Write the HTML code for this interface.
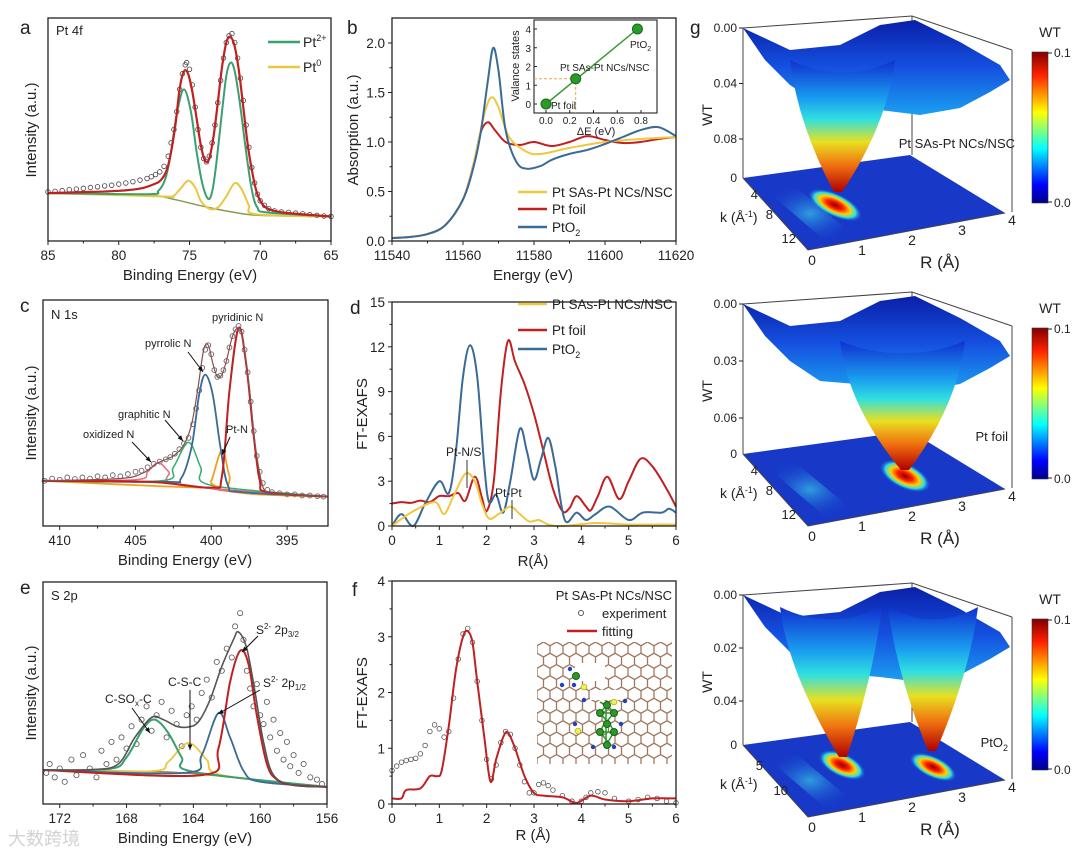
<!DOCTYPE html>
<html><head><meta charset="utf-8">
<style>
html,body{margin:0;padding:0;background:#fff;}
svg{display:block;font-family:"Liberation Sans","Noto Sans CJK SC",sans-serif;}
</style></head>
<body>
<svg id="fig" width="1080" height="851" viewBox="0 0 1080 851" xmlns="http://www.w3.org/2000/svg">
<defs>
<linearGradient id="jetV" x1="0" y1="0" x2="0" y2="1">
<stop offset="0" stop-color="#1030d0"/><stop offset="0.3" stop-color="#1aa0f0"/><stop offset="0.45" stop-color="#30e0e0"/><stop offset="0.62" stop-color="#e8e020"/><stop offset="0.8" stop-color="#f07010"/><stop offset="1" stop-color="#b00000"/>
</linearGradient>
<linearGradient id="cbar" x1="0" y1="1" x2="0" y2="0">
<stop offset="0" stop-color="#00008a"/><stop offset="0.12" stop-color="#0000ff"/><stop offset="0.36" stop-color="#00ffff"/><stop offset="0.6" stop-color="#ffff00"/><stop offset="0.85" stop-color="#ff2000"/><stop offset="1" stop-color="#800000"/>
</linearGradient>
<linearGradient id="surfB" x1="0" y1="0" x2="0" y2="1">
<stop offset="0" stop-color="#0a1fa8"/><stop offset="0.5" stop-color="#1550e0"/><stop offset="1" stop-color="#1aa0f0"/>
</linearGradient>
<radialGradient id="hot">
<stop offset="0" stop-color="#900000"/><stop offset="0.3" stop-color="#ff2000"/><stop offset="0.55" stop-color="#ffd000"/><stop offset="0.75" stop-color="#30e0e0"/><stop offset="1" stop-color="#1030d0" stop-opacity="0"/>
</radialGradient>
<radialGradient id="cyanSpot">
<stop offset="0" stop-color="#40e0f0"/><stop offset="1" stop-color="#1040d0" stop-opacity="0"/>
</radialGradient>
<pattern id="hex" width="13" height="22.5" patternUnits="userSpaceOnUse" x="537" y="642">
<path d="M0 3.75 L6.5 0 L13 3.75 M6.5 0 V-4 M0 3.75 V11.25 L6.5 15 L13 11.25 V3.75 M6.5 15 V22.5" stroke="#a07860" stroke-width="1.3" fill="none"/>
</pattern>
</defs>
<g id="root"></g>
</svg>
<script>
// ---------- DATA ----------
// Panel a (Pt 4f): [binding energy eV, intensity a.u.]
const aEnvelope=[[85,21.5],[82,22],[80,22.5],[78.5,23.5],[77.5,25.5],[77,27.5],[76.6,32],[76.3,40],[76,52],[75.7,68],[75.4,76],[75.1,75],[74.8,67],[74.5,55],[74.2,43],[73.9,36],[73.6,37],[73.3,47],[73,62],[72.7,78],[72.4,89],[72.1,91.5],[71.8,87],[71.5,76],[71.2,60],[70.9,44],[70.6,32],[70.3,23],[70,18],[69.6,15],[69,13.5],[68,12.5],[65,11]];
const aExp=[[85,22],[84.5,22.3],[84,22.6],[83.5,23],[83,23.3],[82.5,23.6],[82,24],[81.5,24.3],[81,24.7],[80.5,25],[80,25.5],[79.5,26],[79,26.6],[78.5,27.3],[78,28],[77.7,28.8],[77.4,29.8],[77.1,31],[76.8,33.5],[76.5,38],[76.3,44],[76.1,50],[75.9,58],[75.7,68],[75.5,75],[75.3,79],[75.2,80],[75,77],[74.8,70],[74.6,60],[74.4,50],[74.2,42],[74,37],[73.8,35.5],[73.6,38],[73.4,44],[73.2,52],[73,62],[72.8,72],[72.6,82],[72.4,89],[72.2,92],[72,93],[71.8,89],[71.6,82],[71.4,73],[71.2,63],[71,52],[70.8,42],[70.6,33],[70.4,26],[70.2,21],[70,18],[69.7,16],[69.4,14.5],[69,13.5],[68.5,13],[68,12.8],[67.5,12.5],[67,12.2],[66.5,11.8],[66,11.5],[65.5,11.2],[65,11]];
const aPt2=[[85,21.5],[78,21],[77.2,22.5],[76.7,28],[76.3,40],[75.9,57],[75.4,68],[74.9,58],[74.5,40],[74.1,26],[73.7,19],[73.4,22],[73.1,35],[72.7,58],[72.4,74],[72.1,80],[71.8,76],[71.4,60],[71,40],[70.6,23],[70.2,15],[69.5,12.8],[65,11]];
const aPt0=[[85,21.5],[77,20],[76.2,20],[75.7,23],[75.1,27],[74.6,24],[74.2,18],[73.6,14.5],[73,15],[72.4,20],[71.8,26],[71.3,23],[70.8,16],[70.3,12],[65,11]];
const aBase=[[85,21.5],[78,20.5],[76,18.5],[74,15.5],[72,13],[70,11.5],[65,11]];
const aXTicks=[85,80,75,70,65];
// Panel b (XANES): [energy eV, absorption]
const bEnergyTicks=[11540,11560,11580,11600,11620];
const bAbsTicks=[0,0.5,1.0,1.5,2.0];
const bPtO2=[[11540,0.03],[11545,0.04],[11550,0.07],[11555,0.16],[11560,0.42],[11563,0.75],[11565,1.1],[11567,1.62],[11568.5,1.95],[11570,1.72],[11572,1.12],[11575,0.8],[11578,0.73],[11582,0.76],[11585,0.82],[11590,0.88],[11595,0.92],[11600,0.98],[11605,1.05],[11610,1.12],[11615,1.15],[11620,1.06]];
const bSample=[[11540,0.03],[11545,0.04],[11550,0.07],[11555,0.16],[11560,0.42],[11563,0.78],[11566,1.28],[11568,1.45],[11570,1.35],[11573,1.05],[11578,0.9],[11582,0.88],[11590,0.94],[11600,1.0],[11610,1.03],[11620,1.05]];
const bFoil=[[11540,0.03],[11545,0.04],[11550,0.07],[11555,0.16],[11560,0.42],[11563,0.78],[11565,1.1],[11567,1.2],[11569,1.12],[11572,1.0],[11576,0.97],[11580,1.0],[11585,0.96],[11590,1.0],[11595,1.06],[11600,1.02],[11605,0.99],[11610,1.0],[11615,1.03],[11620,1.05]];
const insetDE=[0,0.25,0.77];
const insetVal=[0,1.35,4];
const insetNames=["Pt foil","Pt SAs-Pt NCs/NSC","PtO"];
const insetXTicks=[0,0.2,0.4,0.6,0.8];
const insetYTicks=[0,1,2,3,4];
// Panel c (N 1s)
const cExp=[[411,20],[410.5,21],[410,20.5],[409.5,21.5],[409,20.8],[408.5,21.5],[408,21],[407.5,22],[407,21.5],[406.5,22.5],[406,22],[405.5,23],[405,24],[404.6,24.5],[404.2,26],[403.8,27.5],[403.4,28.5],[403,29.5],[402.7,30.5],[402.4,32],[402.1,34],[401.8,36.5],[401.5,39],[401.2,45],[401,52],[400.8,60],[400.6,70],[400.4,78],[400.2,80],[400,76],[399.8,69],[399.6,66],[399.4,66.5],[399.2,69],[399,73],[398.8,79],[398.6,84],[398.4,87],[398.2,88.5],[398,86],[397.8,78],[397.6,68],[397.4,55],[397.2,42],[397,31],[396.8,24],[396.6,19],[396.3,16],[396,15],[395.5,14.5],[395,14],[394.5,14],[394,13.5],[393.5,13.5],[393,13.2],[392.6,13]];
const cEnvelope=[[411.1,20],[406,21],[404.5,23.5],[403.5,28],[402.5,31],[401.8,36],[401.3,45],[400.9,60],[400.5,78],[400.2,80],[399.9,72],[399.6,66],[399.3,67],[399,73],[398.6,84],[398.2,87.6],[397.9,82],[397.5,62],[397.1,36],[396.7,20],[396.3,15],[395,14],[392.3,13]];
const cPyridinic=[[411.1,20],[404,19.5],[400,17],[399.3,22],[398.8,60],[398.2,87.6],[397.7,72],[397.2,40],[396.8,20],[396.3,15],[392.3,13]];
const cPyrrolic=[[411.1,20],[403,19.5],[402,21],[401.3,35],[400.8,58],[400.4,67],[399.9,58],[399.4,35],[398.9,18],[398,15],[392.3,13]];
const cGraphitic=[[411.1,20],[403.3,20],[402.5,26],[401.5,37],[400.7,26],[400,18],[392.3,13]];
const cOxidized=[[411.1,20],[405,20.5],[404.2,24],[403.5,28],[402.8,24],[402,18],[392.3,13]];
const cPtN=[[411.1,20],[400.5,17],[400,20],[399.3,33.6],[398.8,22],[398.3,15],[392.3,13]];
const cBase=[[411.1,20],[404,19.5],[401,17.5],[399,15.5],[397,14],[392.3,13]];
const cXTicks=[410,405,400,395];
// Panel d (FT-EXAFS)
const dPtO2=[[0,0],[0.2,0.8],[0.45,0],[0.7,1.5],[1.0,3],[1.2,2.2],[1.35,5],[1.5,10],[1.65,12.1],[1.8,10],[1.95,4],[2.05,1.6],[2.2,2.1],[2.35,0.9],[2.5,3],[2.7,6.5],[2.85,5],[3.0,3.1],[3.15,4.5],[3.3,5.9],[3.45,4],[3.65,0.4],[3.9,0.9],[4.1,0.4],[4.3,0.8],[4.6,1.3],[5.0,0.4],[5.3,0.9],[5.7,0.9],[5.85,1.15],[6,0.9]];
const dFoil=[[0,1.5],[0.2,1.6],[0.4,1.55],[0.6,1.7],[0.8,1.6],[1.0,2.0],[1.2,2.0],[1.4,2.2],[1.55,1.7],[1.75,3.3],[1.9,1.9],[2.0,1],[2.15,3],[2.3,9],[2.45,12.4],[2.6,11],[2.8,9.5],[3.0,7.5],[3.2,5],[3.4,2.5],[3.6,1],[3.75,1.2],[3.9,2],[4.1,1.3],[4.2,1.05],[4.35,2],[4.55,3.3],[4.8,1.8],[5.0,3],[5.25,4.5],[5.5,4],[5.8,2.5],[6,1.3]];
const dSample=[[0,0],[0.4,0.9],[0.9,1.6],[1.1,0.8],[1.3,2],[1.55,3.5],[1.75,3.0],[1.9,1.5],[2.05,0.5],[2.25,0.8],[2.5,1.3],[2.7,0.8],[2.9,0.3],[3.1,0.4],[3.3,0.1],[3.6,0],[4.3,0.2],[5,0.1],[6,0.1]];
const dXTicks=[0,1,2,3,4,5,6];
const dYTicks=[0,3,6,9,12,15];
// Panel e (S 2p)
const eEnvelope=[[173,15.3],[170,15.5],[168.5,18],[167.5,30],[166.5,39],[165.8,38],[165,35],[164.3,34.7],[163.7,37],[163,47],[162.3,62],[161.6,74],[161.3,77.5],[160.8,70],[160.3,50],[159.8,28],[159.2,13],[158,8.5],[156,7.7]];
const eCSOx=[[173,15.3],[169,15.8],[168,21],[167,34],[166.3,38],[165.5,32],[164.7,21],[164,14.5],[156,7.7]];
const eCSC=[[173,15.3],[166.5,14.8],[165.5,19],[164.3,27.5],[163.2,20],[162.3,13],[156,7.7]];
const eP12=[[173,15.3],[164.5,14],[163.5,22],[162.5,41],[161.8,30],[161,15],[160,10],[156,7.7]];
const eP32=[[173,15.3],[163.5,13],[162.5,25],[161.8,55],[161.2,69],[160.7,63],[160.2,40],[159.6,18],[159,11],[158,8.5],[156,7.7]];
const eBase=[[173,15.3],[166,14.5],[163,13],[160,10.5],[158,8.8],[156,7.7]];
const eExp=[[172.8,14],[172.6,18],[172.3,12],[172,16],[171.7,10],[171.3,20],[171,13],[170.6,22],[170.2,16],[169.8,12],[169.5,24],[169.2,18],[168.9,28],[168.6,20],[168.3,30],[168,25],[167.7,35],[167.4,27],[167.1,38],[166.8,44],[166.5,33],[166.2,40],[165.9,46],[165.6,30],[165.3,42],[165,36],[164.7,26],[164.4,40],[164.1,44],[163.8,38],[163.5,50],[163.2,56],[162.9,48],[162.6,64],[162.3,60],[162,70],[161.7,66],[161.5,80],[161.2,86],[161,74],[160.8,60],[160.6,52],[160.4,44],[160.2,54],[160,40],[159.8,36],[159.6,46],[159.4,30],[159.2,38],[159,24],[158.8,32],[158.6,20],[158.4,28],[158.2,17],[158,22],[157.7,14],[157.4,18],[157,12],[156.6,11],[156.3,9]];
const eXTicks=[172,168,164,160,156];
// Panel f (fit)
const fExp=[[0,0.6],[0.1,0.68],[0.2,0.75],[0.3,0.78],[0.4,0.8],[0.5,0.82],[0.6,0.9],[0.7,1.05],[0.8,1.3],[0.9,1.42],[1.0,1.35],[1.1,1.2],[1.2,1.3],[1.3,1.9],[1.4,2.6],[1.5,3.05],[1.6,3.15],[1.7,2.9],[1.8,2.2],[1.9,1.5],[2.0,0.8],[2.1,0.45],[2.2,0.7],[2.3,1.1],[2.4,1.3],[2.5,1.25],[2.6,1.0],[2.7,0.7],[2.8,0.4],[2.9,0.2],[3.0,0.2],[3.1,0.35],[3.2,0.38],[3.3,0.33],[3.4,0.25],[3.6,0.15],[3.8,0.05],[4.0,0.05],[4.1,0.12],[4.2,0.2],[4.35,0.22],[4.5,0.2],[4.7,0.1],[5.0,0.05],[5.2,0.08],[5.4,0.12],[5.6,0.1],[5.8,0.05],[6,0.02]];
const fFit=[[0,0.1],[0.2,0.1],[0.3,0.25],[0.6,0.28],[0.8,0.5],[0.95,0.5],[1.05,0.6],[1.2,1.4],[1.35,2.4],[1.5,3.0],[1.6,3.1],[1.7,2.9],[1.8,2.2],[1.95,1.2],[2.08,0.4],[2.2,0.8],[2.35,1.2],[2.45,1.28],[2.6,1.0],[2.8,0.5],[3.0,0.2],[3.2,0.15],[3.6,0.12],[3.9,0.02],[4.2,0.15],[4.5,0.08],[5,0.05],[5.5,0.1],[6,0.1]];
const fXTicks=[0,1,2,3,4,5,6];
const fYTicks=[0,1,2,3,4];
// Panel g (wavelet transforms)
const gNames=["Pt SAs-Pt NCs/NSC","Pt foil","PtO"];
const gZTicks=[["0.00","0.04","0.08"],["0.00","0.03","0.06"],["0.00","0.02","0.04"]];
const gKTicks=[["4","8","12"],["4","8","12"],["5","10"]];
const gRTicks=["0","1","2","3","4"];

// ---------- HELPERS ----------
const NS="http://www.w3.org/2000/svg";
const root=document.getElementById('root');
function mk(tag,attrs,parent,txt){const e=document.createElementNS(NS,tag);for(const k in attrs)e.setAttribute(k,attrs[k]);if(txt!==undefined)e.textContent=txt;(parent||root).appendChild(e);return e;}
function scale(d0,d1,r0,r1){return v=>r0+(v-d0)/(d1-d0)*(r1-r0);}
function smooth(pts){let d='M'+pts[0][0].toFixed(1)+' '+pts[0][1].toFixed(1);for(let i=0;i<pts.length-1;i++){const p0=pts[i-1]||pts[i],p1=pts[i],p2=pts[i+1],p3=pts[i+2]||p2;const c1=[p1[0]+(p2[0]-p0[0])/6,p1[1]+(p2[1]-p0[1])/6],c2=[p2[0]-(p3[0]-p1[0])/6,p2[1]-(p3[1]-p1[1])/6];d+=' C'+c1[0].toFixed(1)+' '+c1[1].toFixed(1)+' '+c2[0].toFixed(1)+' '+c2[1].toFixed(1)+' '+p2[0].toFixed(1)+' '+p2[1].toFixed(1);}return d;}
function line(g,data,sx,sy,color,w,name){const p=mk('path',{d:smooth(data.map(q=>[sx(q[0]),sy(q[1])])),fill:'none',stroke:color,'stroke-width':w,'stroke-linejoin':'round'},g);return p;}
function frame(g,b){const r=mk('rect',{x:b.l,y:b.t,width:b.r-b.l,height:b.b-b.t,fill:'none',stroke:'#222','stroke-width':1.3},g);}
function xticks(g,b,sx,ticks,fmt,minor){ticks.forEach((t,i)=>{const x=sx(t);mk('line',{x1:x,x2:x,y1:b.b,y2:b.b+4,stroke:'#222'},g);const tx=mk('text',{x:x,y:b.b+19,'text-anchor':'middle','font-size':13.5,fill:'#222'},g,fmt?fmt(t):t);if(minor&&i<ticks.length-1){const m=sx((t+ticks[i+1])/2);mk('line',{x1:m,x2:m,y1:b.b,y2:b.b+2.5,stroke:'#222'},g);}});}
function yticks(g,b,sy,ticks,fmt,minor){ticks.forEach((t,i)=>{const y=sy(t);mk('line',{x1:b.l-4,x2:b.l,y1:y,y2:y,stroke:'#222'},g);const tx=mk('text',{x:b.l-7,y:y+5,'text-anchor':'end','font-size':13.5,fill:'#222'},g,fmt?fmt(t):t);if(minor&&i<ticks.length-1){const m=sy((t+ticks[i+1])/2);mk('line',{x1:b.l-2.5,x2:b.l,y1:m,y2:m,stroke:'#222'},g);}});}
function txt(g,x,y,s,size,name,anchor,rot){const a={x:x,y:y,'font-size':size,fill:'#222','text-anchor':anchor||'start'};if(rot)a.transform='rotate(-90 '+x+' '+y+')';const t=mk('text',a,g);t.innerHTML=s;return t;}
function grp(name){const g=mk('g',{},root);return g;}
function arrow(g,x1,y1,x2,y2){mk('line',{x1:x1,y1:y1,x2:x2,y2:y2,stroke:'#111','stroke-width':1},g);const a=Math.atan2(y2-y1,x2-x1),L=6;mk('path',{d:`M${x2} ${y2} L${x2-L*Math.cos(a-0.4)} ${y2-L*Math.sin(a-0.4)} L${x2-L*Math.cos(a+0.4)} ${y2-L*Math.sin(a+0.4)}Z`,fill:'#111'},g);}

// ---------- PANEL A ----------
(function(){const g=grp('panel-a');const b={l:48,r:331,t:18,b:241};const sx=scale(85,65,b.l,b.r),sy=scale(0,100,b.b,b.t);
aExp.forEach(p=>{const c=mk('circle',{cx:sx(p[0]),cy:sy(p[1]),r:2.3,fill:'none',stroke:'#444','stroke-width':0.8},g);});
line(g,aBase,sx,sy,'#8a9a50',1.5,'background-line');line(g,aPt0,sx,sy,'#e8c840',2,'pt0-component');line(g,aPt2,sx,sy,'#3aa070',2,'pt2-component');line(g,aEnvelope,sx,sy,'#c02020',2.2,'envelope-fit');
frame(g,b);xticks(g,b,sx,aXTicks,null,true);
txt(g,190,280,'Binding Energy (eV)',15,'x-axis-title','middle');txt(g,36,130,'Intensity (a.u.)',15,'y-axis-title','middle',true);
txt(g,20,34,'a',19,'panel-label');txt(g,56,35,'Pt 4f',13,'spectrum-label');
mk('line',{x1:268,x2:300,y1:42,y2:42,stroke:'#3aa070','stroke-width':2.5},g);txt(g,303,47,'Pt<tspan font-size="9" dy="-6">2+</tspan>',14,'legend-pt2');
mk('line',{x1:268,x2:300,y1:67,y2:67,stroke:'#e8c840','stroke-width':2.5},g);txt(g,303,72,'Pt<tspan font-size="9" dy="-6">0</tspan>',14,'legend-pt0');})();

// ---------- PANEL B ----------
(function(){const g=grp('panel-b');const b={l:392,r:676,t:18,b:241};const sx=scale(11540,11620,b.l,b.r),sy=scale(0,2.2525,b.b,b.t);
line(g,bFoil,sx,sy,'#c02020',2,'pt-foil-line');line(g,bSample,sx,sy,'#f0c840',2,'sample-line');line(g,bPtO2,sx,sy,'#3a6a98',2,'pto2-line');
frame(g,b);xticks(g,b,sx,bEnergyTicks,null,true);yticks(g,b,sy,bAbsTicks,t=>t.toFixed(1),true);
txt(g,533,280,'Energy (eV)',15,'x-axis-title','middle');txt(g,358,130,'Absorption (a.u.)',15,'y-axis-title','middle',true);txt(g,347,34,'b',19,'panel-label');
[['#f0c840','Pt SAs-Pt NCs/NSC',192],['#c02020','Pt foil',209],['#3a6a98','PtO<tspan font-size="9" dy="4">2</tspan>',227]].forEach(l=>{mk('line',{x1:518,x2:547,y1:l[2],y2:l[2],stroke:l[0],'stroke-width':2.5},g);txt(g,552,l[2]+5,l[1],13.5,'legend-entry');});
const ib={l:534,r:657,t:20,b:113};const ix=scale(0,0.8,546,641),iy=scale(0,4,104,29);
const ir=mk('rect',{x:ib.l,y:ib.t,width:ib.r-ib.l,height:ib.b-ib.t,fill:'#fff',stroke:'#222','stroke-width':1.1},g);
mk('path',{d:`M${ib.l} ${iy(insetVal[1])} H${ix(insetDE[1])} V${ib.b}`,stroke:'#f0a050','stroke-dasharray':'3,2',fill:'none'},g);
mk('line',{x1:ix(insetDE[0]),y1:iy(insetVal[0]),x2:ix(insetDE[2]),y2:iy(insetVal[2]),stroke:'#3a9a30','stroke-width':1.5},g);
insetDE.forEach((v,i)=>{const c=mk('circle',{cx:ix(v),cy:iy(insetVal[i]),r:5,fill:'#2a9a2a',stroke:'#1a6a1a'},g);});
insetXTicks.forEach(t=>{mk('line',{x1:ix(t),x2:ix(t),y1:ib.b,y2:ib.b-3,stroke:'#222'},g);txt(g,ix(t),ib.b+11,t.toFixed(1),10,'inset-x-tick','middle');});
insetYTicks.forEach(t=>{mk('line',{x1:ib.l,x2:ib.l+3,y1:iy(t),y2:iy(t),stroke:'#222'},g);txt(g,ib.l-3,iy(t)+4,t,10,'inset-y-tick','end');});
txt(g,596,135,'ΔE (eV)',11,'inset-x-title','middle');txt(g,519,66,'Valance states',11,'inset-y-title','middle',true);
txt(g,ix(insetDE[0])+5,iy(insetVal[0])+5,insetNames[0],10,'inset-label');txt(g,560,71,insetNames[1],10,'inset-label');txt(g,630,48,insetNames[2]+'<tspan font-size="7" dy="3">2</tspan>',10,'inset-label');})();

// ---------- PANEL C ----------
(function(){const g=grp('panel-c');const b={l:43,r:328,t:300,b:526};const sx=scale(411.1,392.3,b.l,b.r),sy=scale(0,100,b.b,b.t);
cExp.forEach(p=>{const c=mk('circle',{cx:sx(p[0]),cy:sy(p[1]),r:2.4,fill:'none',stroke:'#666','stroke-width':0.9},g);});
line(g,cBase,sx,sy,'#e07060',1.5,'background-line');line(g,cOxidized,sx,sy,'#e07080',1.5,'oxidized-n');line(g,cGraphitic,sx,sy,'#30b070',1.5,'graphitic-n');line(g,cPtN,sx,sy,'#f0a020',1.8,'pt-n');line(g,cPyrrolic,sx,sy,'#3a6a98',1.8,'pyrrolic-n');line(g,cPyridinic,sx,sy,'#c02020',2,'pyridinic-n');line(g,cEnvelope,sx,sy,'#8a5050',1.2,'envelope-fit');
frame(g,b);xticks(g,b,sx,cXTicks,null,true);
txt(g,185,565,'Binding Energy (eV)',15,'x-axis-title','middle');txt(g,36,413,'Intensity (a.u.)',15,'y-axis-title','middle',true);
txt(g,20,312,'c',19,'panel-label');txt(g,51,319,'N 1s',13,'spectrum-label');
txt(g,212,321,'pyridinic N',11,'pyridinic-label');txt(g,145,347,'pyrrolic N',11,'pyrrolic-label');arrow(g,188,352,203,372);
txt(g,118,418,'graphitic N',11,'graphitic-label');arrow(g,165,420,183,441);txt(g,83,438,'oxidized N',11,'oxidized-label');arrow(g,132,442,151,462);
txt(g,226,433,'Pt-N',11,'pt-n-label');arrow(g,230,437,222,455);})();

// ---------- PANEL D ----------
(function(){const g=grp('panel-d');const b={l:392,r:676,t:302,b:526};const sx=scale(0,6,b.l,b.r),sy=scale(0,15,b.b,b.t);
line(g,dFoil,sx,sy,'#c02020',2,'pt-foil-line');line(g,dPtO2,sx,sy,'#3a6a98',2,'pto2-line');line(g,dSample,sx,sy,'#f0c840',2,'sample-line');
frame(g,b);xticks(g,b,sx,dXTicks,null,true);yticks(g,b,sy,dYTicks,null,true);
txt(g,533,566,'R(Å)',15,'x-axis-title','middle');txt(g,367,414,'FT-EXAFS',15,'y-axis-title','middle',true);txt(g,350,314,'d',19,'panel-label');
[['#f0c840','Pt SAs-Pt NCs/NSC',304],['#c02020','Pt foil',330],['#3a6a98','PtO<tspan font-size="9" dy="4">2</tspan>',349]].forEach(l=>{mk('line',{x1:518,x2:547,y1:l[2],y2:l[2],stroke:l[0],'stroke-width':2.5},g);txt(g,552,l[2]+5,l[1],13.5,'legend-entry');});
txt(g,446,456,'Pt-N/S',12,'pt-n-s-label');mk('line',{x1:467,x2:467,y1:460,y2:488,stroke:'#333'},g);
txt(g,495,497,'Pt-Pt',12,'pt-pt-label');mk('line',{x1:512,x2:512,y1:500,y2:519,stroke:'#333'},g);})();

// ---------- PANEL E ----------
(function(){const g=grp('panel-e');const b={l:43,r:327,t:582,b:804};const sx=scale(173,156,b.l,b.r),sy=scale(0,100,b.b,b.t);
eExp.forEach(p=>{const c=mk('circle',{cx:sx(p[0]),cy:sy(p[1]),r:2.6,fill:'none',stroke:'#555','stroke-width':0.8},g);});
line(g,eBase,sx,sy,'#a08040',1.5,'background-line');line(g,eCSC,sx,sy,'#e8c840',1.8,'c-s-c');line(g,eCSOx,sx,sy,'#3aa070',2,'c-sox-c');line(g,eP12,sx,sy,'#3a6a98',1.8,'s-2p12');line(g,eP32,sx,sy,'#c02020',2,'s-2p32');line(g,eEnvelope,sx,sy,'#555',1.6,'envelope-fit');
frame(g,b);xticks(g,b,sx,eXTicks,null,true);
txt(g,185,843,'Binding Energy (eV)',15,'x-axis-title','middle');txt(g,36,693,'Intensity (a.u.)',15,'y-axis-title','middle',true);
txt(g,20,594,'e',19,'panel-label');txt(g,51,600,'S 2p',13,'spectrum-label');
txt(g,105,703,'C-SO<tspan font-size="8" dy="3">x</tspan><tspan dy="-3">-C</tspan>',12,'c-sox-label');arrow(g,132,708,150,733);
txt(g,168,686,'C-S-C',12,'c-s-c-label');arrow(g,190,690,190,750);
txt(g,256,634,'S<tspan font-size="8" dy="-5">2-</tspan><tspan dy="5"> 2p</tspan><tspan font-size="8" dy="3">3/2</tspan>',12,'s-2p32-label');arrow(g,258,636,242,652);
txt(g,263,687,'S<tspan font-size="8" dy="-5">2-</tspan><tspan dy="5"> 2p</tspan><tspan font-size="8" dy="3">1/2</tspan>',12,'s-2p12-label');arrow(g,260,690,218,714);})();

// ---------- PANEL F ----------
(function(){const g=grp('panel-f');const b={l:392,r:676,t:581,b:804};const sx=scale(0,6,b.l,b.r),sy=scale(0,4,b.b,b.t);
const hr=mk('rect',{x:537,y:642,width:135,height:122,fill:'url(#hex)'},g);
mk('rect',{x:575,y:663,width:30,height:18,fill:'#fff'},g);mk('rect',{x:590,y:690,width:35,height:10,fill:'#fff'},g);
[[570,669],[574,685],[562,685],[584,700],[625,701],[575,724],[621,724],[593,747],[614,747]].forEach(p=>mk('circle',{cx:p[0],cy:p[1],r:2.2,fill:'#2040c0'},g));
mk('path',{d:'M600 702 L606 706 L600 713 L606 720 L600 732 L608 742 L614 732 L608 720 L614 713 L608 706 Z M600 713 L614 713 M600 732 L614 732 M606 706 V742',stroke:'#2a9a2a','stroke-width':1.5,fill:'none'},g);
[[576,676],[607,705],[600,713],[614,713],[607,724],[600,732],[614,732],[607,745]].forEach(p=>mk('circle',{cx:p[0],cy:p[1],r:3.5,fill:'#2a9a2a',stroke:'#186018'},g));
[[584,687],[614,702],[578,731]].forEach(p=>mk('circle',{cx:p[0],cy:p[1],r:2.8,fill:'#f0f060',stroke:'#c0c020'},g));
fExp.forEach(p=>{const c=mk('circle',{cx:sx(p[0]),cy:sy(p[1]),r:2.3,fill:'none',stroke:'#555','stroke-width':0.8},g);});
line(g,fFit,sx,sy,'#c02020',2,'fitting-line');
frame(g,b);xticks(g,b,sx,fXTicks,null,true);yticks(g,b,sy,fYTicks,null,true);
txt(g,533,840,'R (Å)',15,'x-axis-title','middle');txt(g,367,693,'FT-EXAFS',15,'y-axis-title','middle',true);txt(g,352,596,'f',19,'panel-label');
txt(g,672,600,'Pt SAs-Pt NCs/NSC',13,'legend-title','end');mk('circle',{cx:581,cy:613,r:2.5,fill:'none',stroke:'#555'},g);txt(g,602,618,'experiment',13,'legend-experiment');
mk('line',{x1:567,x2:597,y1:631,y2:631,stroke:'#c02020','stroke-width':2.5},g);txt(g,602,636,'fitting',13,'legend-fitting');})();

// ---------- PANEL G ----------
const gOff=[0,276,567];
const gFunnels=[[[790,895,95,838,192]],[[840,965,100,905,194]],[[780,882,75,843,190],[888,978,75,932,184]]];
const gHot=[[[835,205,30,12]],[[905,200,28,13]],[[842,198,26,12],[933,200,26,11]]];
gOff.forEach((o,idx)=>{const g=grp('wt-panel-'+(idx+1));const t=mk('g',{transform:'translate(0,'+o+')'},g);
mk('path',{d:'M743 28 L912 16 L1012 50 M912 16 V155 M1012 50 V212 M743 28 V178',stroke:'#444','stroke-width':1,fill:'none'},t);
const fl=mk('path',{d:'M743 178 L910 155 L1005 213 L808 250 Z',fill:'#1838c8'},t);
mk('path',{d:'M760 185 L790 182 L860 240 L830 245 Z',fill:'url(#cyanSpot)',opacity:0.6},t);
gHot[idx].forEach(h=>mk('ellipse',{cx:h[0],cy:h[1],rx:h[2],ry:h[3],fill:'url(#hot)',transform:`rotate(25 ${h[0]} ${h[1]})`},t));
const sf=mk('path',{d:'M743 28 L790 50 L840 45 L880 25 L915 20 L960 42 L1000 65 L1010 80 L990 92 L960 108 L920 115 L880 110 L820 105 L790 85 L765 60 Z',fill:'url(#surfB)'},t);
gFunnels[idx].forEach(f=>{const fp=mk('path',{d:`M${f[0]} ${f[2]-35} Q${f[0]+8} ${f[2]+30} ${f[3]-4} ${f[4]} L${f[3]+4} ${f[4]} Q${f[1]-8} ${f[2]+30} ${f[1]} ${f[2]-35} Q${(f[0]+f[1])/2} ${f[2]-10} ${f[0]} ${f[2]-35}Z`,fill:'url(#jetV)'},t);});
mk('path',{d:'M743 178 L808 250 L1005 213',stroke:'#444','stroke-width':1,fill:'none'},t);
gZTicks[idx].forEach((s,i)=>{const y=28+i*(idx===2?53:(idx===1?57:55.5));mk('line',{x1:739,x2:743,y1:y,y2:y,stroke:'#222'},t);txt(t,737,y+4,s,12,'z-tick-label','end');});
txt(t,737,182,'0',12,'z-tick-label','end');
txt(t,712,115,'WT',14,'z-axis-title','middle',true);
const kx=gKTicks[idx].length===2?[763,788]:[758,773,796],ky=gKTicks[idx].length===2?[203,228]:[199,219,243];
gKTicks[idx].forEach((s,i)=>txt(t,kx[i],ky[i],s,13,'k-tick-label','end'));
txt(t,720,222,'k (Å<tspan font-size="9" dy="-5">-1</tspan><tspan dy="5">)</tspan>',14,'k-axis-title');
gRTicks.forEach((s,i)=>txt(t,812+i*50,265-i*10,s,14,'r-tick-label','middle'));
txt(t,940,268,'R (Å)',17,'r-axis-title','middle');
txt(t,idx===0?1015:1008,idx===0?148:(idx===1?165:180),gNames[idx]+(idx===2?'<tspan font-size="9" dy="4">2</tspan>':''),13,'sample-name','end');
const cb=mk('rect',{x:1032,y:52,width:16,height:151,fill:'url(#cbar)',stroke:'#333','stroke-width':0.6},t);
mk('line',{x1:1048,x2:1052,y1:53,y2:53,stroke:'#222'},t);mk('line',{x1:1048,x2:1052,y1:202,y2:202,stroke:'#222'},t);
txt(t,1054,57,'0.1',12,'colorbar-max');txt(t,1054,207,'0.0',12,'colorbar-min');txt(t,1050,37,'WT',14,'colorbar-title','middle');
});
(function(){const g=grp('panel-g-label');txt(g,690,34,'g',19,'panel-label');})();
(function(){const g=grp('watermark');const t=txt(g,8,845,'大数跨境',18,'watermark-text');t.setAttribute('fill','#c8c8c8');t.setAttribute('opacity','0.8');})();
</script>
</body></html>
